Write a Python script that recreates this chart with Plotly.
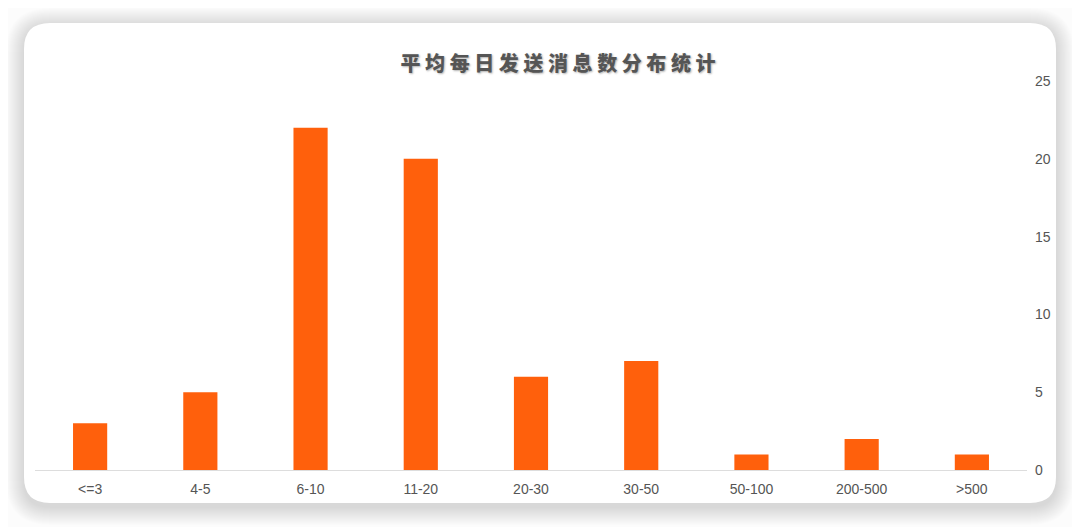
import plotly.graph_objects as go

categories = ["<=3", "4-5", "6-10", "11-20", "20-30", "30-50", "50-100", "200-500", ">500"]
counts = [3, 5, 22, 20, 6, 7, 1, 2, 1]
y_ticks = [0, 5, 10, 15, 20, 25]

OFF = 8                      # page body margin
W, H = 1080 - OFF, 527 - OFF
L, R, T, B = 35 - OFF, 1027 - OFF, 81 - OFF, 470 - OFF   # plot area in figure pixels


def px(x, y):
    # screen pixel position -> paper coordinates
    return (x - OFF - L) / (R - L), (B - (y - OFF)) / (B - T)


def round_rect(x0, y0, x1, y1, r):
    def p(x, y):
        fx, fy = px(x, y)
        return f"{fx:.5f},{fy:.5f}"
    path = f"M {p(x0 + r, y0)} L {p(x1 - r, y0)} Q {p(x1, y0)} {p(x1, y0 + r)} "
    path += f"L {p(x1, y1 - r)} Q {p(x1, y1)} {p(x1 - r, y1)} "
    path += f"L {p(x0 + r, y1)} Q {p(x0, y1)} {p(x0, y1 - r)} "
    path += f"L {p(x0, y0 + r)} Q {p(x0, y0)} {p(x0 + r, y0)} Z"
    return path


shapes = []
# soft shadow round the card
for i in range(18, 0, -1):
    shapes.append(dict(type="path", xref="paper", yref="paper", layer="below",
                       path=round_rect(24 - i, 23 - i + 3, 1056 + i, 503 + i + 4, 26 + i),
                       fillcolor="rgba(0,0,0,0.006)", line=dict(width=0)))
shapes.append(dict(type="path", xref="paper", yref="paper", layer="below",
                   path=round_rect(24, 23, 1056, 503, 26),
                   fillcolor="white", line=dict(width=0)))

fig = go.Figure()
fig.add_trace(go.Bar(
    x=categories,
    y=counts,
    width=0.31,
    marker=dict(color="#FF600C", line=dict(width=0)),
    hoverinfo="x+y",
))

fig.update_layout(
    width=W, height=H,
    margin=dict(l=L, r=W - R, t=T, b=H - B, pad=0),
    paper_bgcolor="#fcfcfc",
    plot_bgcolor="rgba(0,0,0,0)",
    shapes=shapes,
    showlegend=False,
    font=dict(family="Liberation Sans, Arial, sans-serif", size=14, color="#555555"),
    title=dict(
        text=" ".join("平均每日发送消息数分布统计"),
        xref="paper", x=px(558, 0)[0], xanchor="center",
        y=1 - (64 - OFF) / H, yanchor="middle",
        font=dict(family="Noto Sans CJK SC", size=20, color="#555555", weight=900,
                  shadow="1px 1px 2px rgba(0,0,0,0.3)"),
    ),
    xaxis=dict(
        showline=True, linecolor="#dddddd", linewidth=1,
        showgrid=False, ticks="", ticklen=0, ticklabelstandoff=6,
        tickfont=dict(size=14, color="#555555"),
        fixedrange=True,
    ),
    yaxis=dict(
        side="right", range=[0, 25], tickvals=y_ticks,
        showgrid=False, zeroline=False, showline=False,
        ticks="", ticklabelstandoff=7,
        tickfont=dict(size=14, color="#555555"),
        fixedrange=True,
    ),
)

fig.write_html("out.html")
